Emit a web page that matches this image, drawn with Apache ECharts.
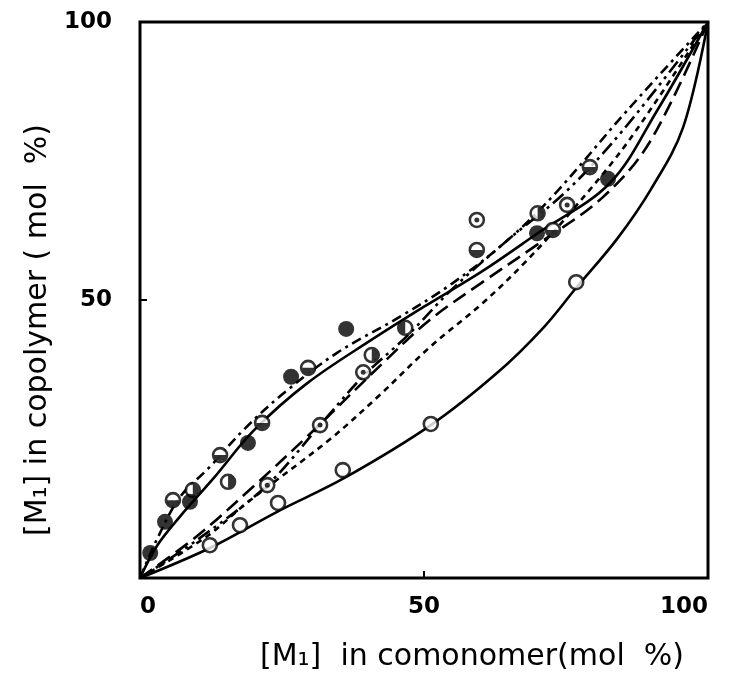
<!DOCTYPE html>
<html>
<head>
<meta charset="utf-8">
<script src="https://cdn.jsdelivr.net/npm/echarts@6/dist/echarts.min.js"></script>
<style>
  html, body { margin: 0; padding: 0; background: #fff; }
  #chart { width: 735px; height: 678px; }
</style>
</head>
<body>
<div id="chart"></div>
<script>
// axis
const axisTicks = [0, 50, 100];
const xTitle = "[M\u2081]  in comonomer(mol  %)";
const yTitle = "[M\u2081] in copolymer ( mol  %)";

// measured points [mol% in comonomer, mol% in copolymer]
const openPts = [[12.3, 5.9], [17.6, 9.5], [24.3, 13.5], [35.7, 19.4], [51.2, 27.7], [76.8, 53.2]];
const filledPts = [[1.8, 4.5], [4.4, 10.1], [8.8, 13.7], [19.0, 24.3], [26.6, 36.2], [36.3, 44.8], [69.9, 62.0], [82.4, 71.8]];
const lowerHalfPts = [[5.8, 14.0], [14.1, 22.1], [21.5, 27.9], [29.6, 37.8], [59.3, 59.0], [72.7, 62.6], [79.2, 73.9]];
const rightHalfPts = [[9.3, 15.8], [15.5, 17.3], [40.8, 40.1], [70.0, 65.6]];
const leftHalfPts = [[46.7, 45.0]];
const dotPts = [[22.4, 16.7], [31.7, 27.5], [39.3, 37.0], [59.3, 64.4], [75.2, 67.1]];

// fitted composition curves
const curveOpen = [[0, 0], [12.3, 5.4], [24.3, 12.0], [36, 18], [51.2, 27.5], [63, 37], [71, 45], [76.8, 52.2], [84, 61], [90, 70], [95.6, 81], [100, 100]];
const curveFilled = [[0, 0], [3, 5.8], [7, 11], [13, 18], [20, 26.5], [29.4, 35], [41, 43], [50, 48.8], [60, 55], [70, 62], [82.7, 71], [91, 84], [100, 100]];
const curveLowerHalf = [[0, 0], [3, 7], [7, 14.5], [12.3, 20], [18.1, 26.5], [25, 33], [34.7, 40.5], [45.8, 47], [55, 53], [65, 61], [73.4, 69.5], [85.7, 84], [100, 100]];
const curveDot = [[0, 0], [10, 6.8], [22.4, 16.7], [31.7, 27.5], [39.3, 36.3], [47, 43.5], [55, 52], [65, 61], [75, 69.5], [85, 80.5], [100, 100]];
const curveRightHalf = [[0, 0], [10, 7.5], [20, 16.5], [30, 26], [42.8, 38.7], [51, 46.4], [60, 53], [70, 60], [81.5, 68.5], [89.8, 78.5], [100, 100]];
const curveShortDash = [[0, 0], [11.8, 7.5], [18.8, 13.5], [33.5, 25], [42.3, 33], [51, 41.5], [60.4, 49.5], [68, 57], [76, 66], [86.3, 79], [100, 100]];

const font = "DejaVu Sans";
const black = "#000";

// half discs; the extra moveTo keeps the square box so the half sits in place
const bottomHalf = "path://M0,0 M0,10 A10,10 0 0 0 20,10 Z";
const rightHalf = "path://M0,0 M10,0 A10,10 0 0 1 10,20 Z";
const leftHalf = "path://M20,0 M10,0 A10,10 0 0 0 10,20 Z";

function curve(data, type) {
  return {
    type: "line",
    data: data,
    smooth: 0.35,
    showSymbol: false,
    silent: true,
    z: 2,
    lineStyle: { color: black, width: 2.6, type: type }
  };
}

function ring(data) {
  return {
    type: "scatter",
    data: data,
    symbol: "circle",
    symbolSize: 14,
    z: 5,
    itemStyle: { color: "#fff", borderColor: black, borderWidth: 2.6 }
  };
}

function fill(data, symbol, size) {
  return {
    type: "scatter",
    data: data,
    symbol: symbol,
    symbolSize: size,
    z: 6,
    itemStyle: { color: black }
  };
}

const chart = echarts.init(document.getElementById("chart"));
chart.setOption({
  animation: false,
  backgroundColor: "#fff",
  grid: {
    left: 140, right: 27, top: 22, bottom: 100,
    show: true, borderColor: black, borderWidth: 3, backgroundColor: "transparent"
  },
  xAxis: {
    type: "value", min: 0, max: 100, interval: 50,
    axisLine: { show: false },
    axisTick: { show: true, inside: true, length: 7, lineStyle: { color: black, width: 2 } },
    splitLine: { show: false },
    axisLabel: {
      color: black, fontFamily: font, fontSize: 23, fontWeight: "bold", margin: 18,
      alignMinLabel: "left", alignMaxLabel: "right",
      formatter: v => axisTicks.includes(v) ? String(v) : ""
    },
    name: xTitle, nameLocation: "middle", nameGap: 64,
    nameTextStyle: { color: black, fontFamily: font, fontSize: 30, padding: [0, 0, 0, 96] }
  },
  yAxis: {
    type: "value", min: 0, max: 100, interval: 50,
    axisLine: { show: false },
    axisTick: { show: true, inside: true, length: 7, lineStyle: { color: black, width: 2 } },
    splitLine: { show: false },
    axisLabel: {
      color: black, fontFamily: font, fontSize: 23, fontWeight: "bold", margin: 28,
      formatter: v => v === 0 ? "" : String(v)
    },
    name: yTitle, nameLocation: "middle", nameGap: 82,
    nameTextStyle: { color: black, fontFamily: font, fontSize: 30, padding: [0, 60, 0, 0] }
  },
  series: [
    curve(curveOpen, "solid"),
    curve(curveFilled, "solid"),
    curve(curveLowerHalf, [10, 5, 3, 5]),
    curve(curveDot, [14, 5, 3, 5, 3, 5]),
    curve(curveRightHalf, [15, 7]),
    curve(curveShortDash, [6, 5]),
    ring(openPts),
    ring(lowerHalfPts),
    ring(rightHalfPts),
    ring(leftHalfPts),
    ring(dotPts),
    fill(filledPts, "circle", 16),
    fill(lowerHalfPts, bottomHalf, 12),
    fill(rightHalfPts, rightHalf, 12),
    fill(leftHalfPts, leftHalf, 12),
    fill(dotPts, "circle", 5)
  ]
});
</script>
</body>
</html>
